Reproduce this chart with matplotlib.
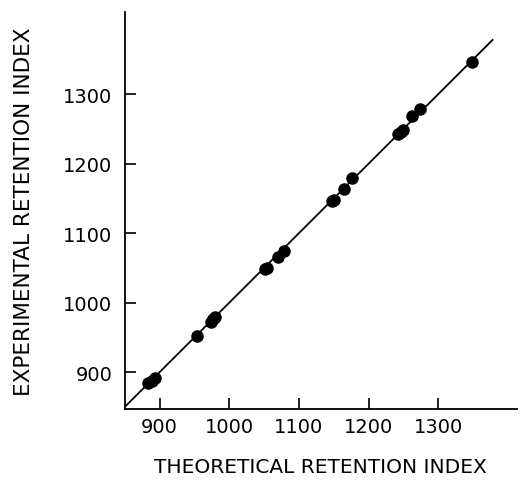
import matplotlib
matplotlib.use("Agg")
import matplotlib.pyplot as plt
import numpy as np

# retention indices: theoretical (calculated) vs experimental
theoretical = [884, 889, 893, 953, 974, 977, 980, 1051, 1054, 1070, 1078,
               1148, 1151, 1165, 1176, 1242, 1246, 1250, 1263, 1274, 1348]
experimental = [884, 888, 892, 952, 972, 976, 980, 1048, 1050, 1066, 1074,
                1146, 1148, 1163, 1179, 1242, 1245, 1248, 1268, 1278, 1347]

# 1:1 reference line
line_ends = [850, 1378]

ticks = [900, 1000, 1100, 1200, 1300]

plt.rcParams['font.family'] = ['DejaVu Sans']

fig = plt.figure(figsize=(5.2, 4.81), dpi=100)
ax = fig.add_axes([0.240, 0.1476, 0.754, 0.825])

ax.plot(line_ends, line_ends, color='black', linewidth=1.3, zorder=1)
ax.plot(theoretical, experimental, 'o', color='black', markersize=8, zorder=2)

ax.set_xlim(850, 1413)
ax.set_ylim(847, 1418)
ax.set_xticks(ticks)
ax.set_yticks(ticks)

for side in ['top', 'right']:
    ax.spines[side].set_visible(False)
for side in ['left', 'bottom']:
    ax.spines[side].set_linewidth(1.3)

ax.tick_params(direction='in', length=8, width=1.2, labelsize=14)
ax.tick_params(axis='x', pad=6)
ax.tick_params(axis='y', pad=9)

ax.set_xlabel('THEORETICAL RETENTION INDEX', fontsize=14.5, labelpad=15)
ax.set_ylabel('EXPERIMENTAL RETENTION INDEX', fontsize=15.5, labelpad=21)

fig.savefig('out.png', dpi=100)
